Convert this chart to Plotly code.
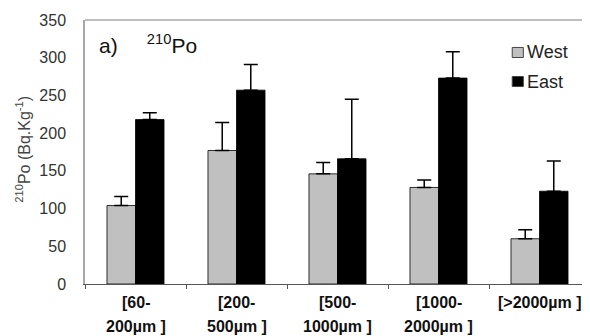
import plotly.graph_objects as go

categories = ["[60-<br>200µm ]", "[200-<br>500µm ]", "[500-<br>1000µm ]", "[1000-<br>2000µm ]", "[>2000µm ]"]
west = [104, 177, 146, 128, 60]
west_err = [12, 37, 15, 10, 12]
east = [218, 257, 166, 273, 123]
east_err = [9, 34, 79, 35, 40]
y_ticks = [0, 50, 100, 150, 200, 250, 300, 350]
series_names = ["West", "East"]
series_colors = ["#c0c0c0", "#000000"]

FONT = "Liberation Sans, Arial, sans-serif"

fig = go.Figure()
for name, vals, errs, col in [(series_names[0], west, west_err, series_colors[0]),
                              (series_names[1], east, east_err, series_colors[1])]:
    fig.add_trace(go.Bar(
        name=name, x=categories, y=vals, showlegend=False,
        marker=dict(color=col, line=dict(color="#000000", width=0.8)),
        error_y=dict(type="data", array=errs, arrayminus=[0]*len(errs), symmetric=False,
                     color="#000000", thickness=1.5, width=7),
    ))

# the page body has an 8px margin, so the figure is sized to fit the 590x336 window
fig.update_layout(
    width=582, height=328,
    margin=dict(l=77, r=0, t=12, b=52, autoexpand=False),
    paper_bgcolor="white", plot_bgcolor="white",
    barmode="group", bargap=0.435, bargroupgap=0,
    font=dict(family=FONT, color="#000000"),
    showlegend=False,
)
fig.update_xaxes(
    range=[-0.5, 4.5], showline=True, linecolor="#555555", linewidth=1.2,
    ticks="outside", tickson="boundaries", ticklen=4, tickcolor="#555555",
    showticklabels=False, showgrid=False, automargin=False,
)
fig.update_yaxes(
    range=[0, 350], tickvals=y_ticks, showgrid=False, zeroline=False,
    showline=True, linecolor="#a8a8a8", linewidth=1.5, ticks="", ticklabelstandoff=14,
    tickfont=dict(size=16, color="#333333"), automargin=False,
)
# y-axis title
fig.add_annotation(xref="paper", yref="paper", x=-0.122, y=0.51, xanchor="center", yanchor="middle",
                   text="<sup>210</sup>Po (Bq.Kg<sup>-1</sup>)", textangle=-90, showarrow=False,
                   font=dict(size=16, color="#444444"))
# top frame line
fig.add_shape(type="line", xref="paper", yref="paper", x0=0, x1=1, y0=1, y1=1,
              line=dict(color="#a8a8a8", width=1.5))
# panel label
fig.add_annotation(xref="paper", yref="paper", x=0.024, y=0.91, xanchor="left", yanchor="middle",
                   text="a)&nbsp;&nbsp;&nbsp;&nbsp;&nbsp;<sup>210</sup>Po", showarrow=False,
                   font=dict(size=21, color="#111111"))
# category labels (two lines, wide spacing)
for c in categories:
    lines = c.split("<br>")
    for i, ln in enumerate(lines):
        fig.add_annotation(xref="x", yref="paper", x=c, y=0, yanchor="middle", xanchor="center",
                           yshift=-18 - 24 * i, text=f"<b>{ln}</b>", showarrow=False,
                           font=dict(size=16, color="#111111", family=FONT))
# legend
leg_y = [0.877, 0.767]
for name, col, ly in zip(series_names, series_colors, leg_y):
    fig.add_shape(type="rect", xref="paper", yref="paper",
                  x0=0.846, x1=0.868, y0=ly - 0.019, y1=ly + 0.019,
                  fillcolor=col, line=dict(color="#444444", width=1))
    fig.add_annotation(xref="paper", yref="paper", x=0.872, y=ly, xanchor="left", yanchor="middle",
                       text=name, showarrow=False, font=dict(size=18, color="#222222"))

fig.write_html("out.html")
